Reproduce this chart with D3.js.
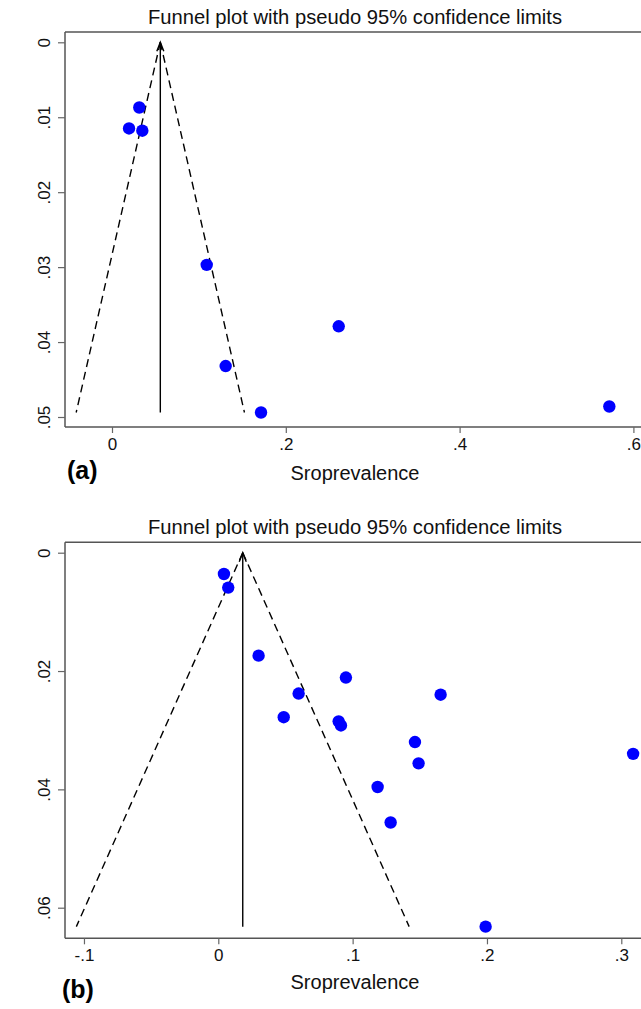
<!DOCTYPE html>
<html><head><meta charset="utf-8">
<script src="https://cdn.jsdelivr.net/npm/d3@7"></script>
<style>
html,body{margin:0;padding:0;background:#fff;}
svg{display:block;}
text{font-family:"Liberation Sans",Arial,Helvetica,sans-serif;}
</style></head>
<body>
<script>
// ---- Data: panel (a)
const aPrevalence = [0.0314, 0.0196, 0.0349, 0.109, 0.1308, 0.1715, 0.2609, 0.5723];
const aSE         = [0.0087, 0.0115, 0.0118, 0.0297, 0.0432, 0.0494, 0.0379, 0.0486];
const aPooled = 0.0556;
const aMaxSE = 0.0494;
const aXTicks = [0, 0.2, 0.4, 0.6];
const aYTicks = [0, 0.01, 0.02, 0.03, 0.04, 0.05];

// ---- Data: panel (b)
const bPrevalence = [0.0042, 0.0074, 0.030, 0.0598, 0.0487, 0.095, 0.1655, 0.0896, 0.0913, 0.1464, 0.1491, 0.1186, 0.1283, 0.199, 0.3088];
const bSE         = [0.0036, 0.0059, 0.0174, 0.0238, 0.0278, 0.0211, 0.0240, 0.0285, 0.0292, 0.0320, 0.0356, 0.0396, 0.0456, 0.0632, 0.0340];
const bPooled = 0.0182;
const bMaxSE = 0.0632;
const bXTicks = [-0.1, 0, 0.1, 0.2, 0.3];
const bYTicks = [0, 0.02, 0.04, 0.06];

const titleText = "Funnel plot with pseudo 95% confidence limits";
const xTitle = "Sroprevalence";
const z = 1.96;

const W = 641, H = 1009;
const svg = d3.select("body").append("svg").attr("width", W).attr("height", H);
svg.append("rect").attr("width", W).attr("height", H).attr("fill", "#fff");

const fmt = v => { let s = String(+v.toFixed(4)); return s.replace(/^(-?)0\./, "$1."); };

function panel(cfg) {
  const g = svg.append("g");
  const {left, right, top, bottom} = cfg.frame;
  const x = d3.scaleLinear().domain(cfg.xDom).range(cfg.xRange);
  const y = d3.scaleLinear().domain(cfg.yDom).range(cfg.yRange);

  // title
  g.append("text").attr("x", (left + right) / 2).attr("y", cfg.titleY)
    .attr("text-anchor", "middle").attr("font-size", 20.2).attr("fill", "#111").text(titleText);

  // frame: top line, left axis, bottom axis
  g.append("line").attr("x1", left).attr("x2", right).attr("y1", top).attr("y2", top)
    .attr("stroke", "#555").attr("stroke-width", 1.5);

  const xAxis = d3.axisBottom(x).tickValues(cfg.xTicks).tickFormat(fmt).tickSize(6).tickSizeOuter(0);
  const xg = g.append("g").attr("transform", `translate(0,${bottom})`).call(xAxis);
  xg.select(".domain").attr("d", `M${left},0H${right}`).attr("stroke", "#555").attr("stroke-width", 1.5);
  xg.selectAll(".tick line").attr("stroke", "#666").attr("stroke-width", 1.2);
  xg.selectAll(".tick text").attr("font-size", 17).attr("fill", "#111")
    .attr("font-family", "Liberation Sans, Arial, sans-serif").attr("y", 11).attr("dy", "0.71em");

  const yAxis = d3.axisLeft(y).tickValues(cfg.yTicks).tickFormat(fmt).tickSize(7).tickSizeOuter(0);
  const yg = g.append("g").attr("transform", `translate(${left},0)`).call(yAxis);
  yg.select(".domain").attr("d", `M0,${top}V${bottom}`).attr("stroke", "#555").attr("stroke-width", 1.5);
  yg.selectAll(".tick line").attr("stroke", "#666").attr("stroke-width", 1.2);
  // rotated labels (reading bottom to top), baseline toward the axis
  yg.selectAll(".tick text")
    .attr("font-size", 17).attr("fill", "#111").attr("font-family", "Liberation Sans, Arial, sans-serif")
    .attr("text-anchor", "middle").attr("x", null).attr("dy", null)
    .attr("transform", "translate(-15,0) rotate(-90)");

  // funnel limits (dashed)
  const line = d3.line().x(d => x(d[0])).y(d => y(d[1]));
  const lo = [[cfg.pooled, 0], [cfg.pooled - z * cfg.maxSE, cfg.maxSE]];
  const hi = [[cfg.pooled, 0], [cfg.pooled + z * cfg.maxSE, cfg.maxSE]];
  [lo, hi].forEach(p => g.append("path").attr("d", line(p)).attr("fill", "none")
    .attr("stroke", "#000").attr("stroke-width", 1.4).attr("stroke-dasharray", "8,5"));
  // pooled estimate vertical line with arrow head
  g.append("path").attr("d", line([[cfg.pooled, cfg.maxSE], [cfg.pooled, 0]]))
    .attr("stroke", "#000").attr("stroke-width", 1.4).attr("fill", "none");
  const ax = x(cfg.pooled), ay = y(0);
  g.append("path").attr("d", `M${ax - 3.5},${ay + 9}L${ax},${ay}L${ax + 3.5},${ay + 9}`)
    .attr("stroke", "#000").attr("stroke-width", 1.4).attr("fill", "none");

  // points
  g.append("g").selectAll("circle").data(cfg.prev.map((p, i) => [p, cfg.se[i]])).join("circle")
    .attr("cx", d => x(d[0])).attr("cy", d => y(d[1])).attr("r", 6.2).attr("fill", "#0000ff");

  // axis title
  g.append("text").attr("x", (left + right) / 2).attr("y", cfg.xTitleY).attr("text-anchor", "middle")
    .attr("font-size", 20).attr("fill", "#111").text(xTitle);
  // panel label
  g.append("text").attr("x", cfg.labelX).attr("y", cfg.labelY).attr("font-size", cfg.labelSize)
    .attr("font-weight", "bold").attr("font-family", "Lato, 'Open Sans', sans-serif")
    .attr("fill", "#000").text(cfg.label);
}

panel({
  frame: {left: 65, right: 645, top: 32, bottom: 427},
  xDom: [0, 0.6], xRange: [112, 633.4],
  yDom: [0, 0.05], yRange: [42.3, 417],
  xTicks: aXTicks, yTicks: aYTicks,
  prev: aPrevalence, se: aSE, pooled: aPooled, maxSE: aMaxSE,
  titleY: 24, xTitleY: 480, label: "(a)", labelX: 67, labelY: 479, labelSize: 25
});
panel({
  frame: {left: 65, right: 645, top: 542.3, bottom: 938.3},
  xDom: [0, 0.3], xRange: [218.3, 621.3],
  yDom: [0, 0.06], yRange: [552.7, 907.7],
  xTicks: bXTicks, yTicks: bYTicks,
  prev: bPrevalence, se: bSE, pooled: bPooled, maxSE: bMaxSE,
  titleY: 534, xTitleY: 989, label: "(b)", labelX: 62, labelY: 998, labelSize: 25
});
</script>
</body></html>
